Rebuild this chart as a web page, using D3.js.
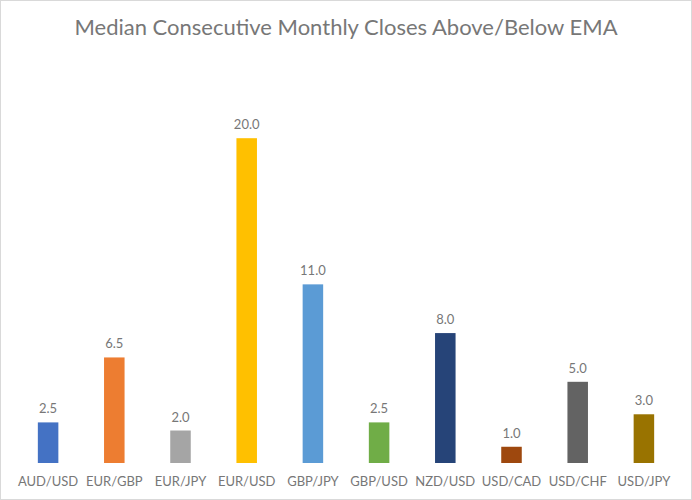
<!DOCTYPE html>
<html><head><meta charset="utf-8">
<script src="https://cdn.jsdelivr.net/npm/d3@7"></script>
<style>html,body{margin:0;padding:0;background:#fff;}</style>
</head><body>
<svg id="c" width="692" height="500"></svg>
<script>
const categories = ["AUD/USD","EUR/GBP","EUR/JPY","EUR/USD","GBP/JPY","GBP/USD","NZD/USD","USD/CAD","USD/CHF","USD/JPY"];
const values = [2.5,6.5,2.0,20.0,11.0,2.5,8.0,1.0,5.0,3.0];
const colors = ["#4472C4","#ED7D31","#A5A5A5","#FFC000","#5B9BD5","#70AD47","#264478","#9E480E","#636363","#997300"];
const title = "Median Consecutive Monthly Closes Above/Below EMA";

const svg = d3.select("#c");
const font = "Lato, 'Open Sans', sans-serif";
svg.append("rect").attr("x",0.5).attr("y",0.5).attr("width",691).attr("height",499)
  .attr("fill","#fff").attr("stroke","#d9d9d9");

svg.append("text").attr("x",346).attr("y",35).attr("text-anchor","middle")
  .attr("font-family",font).attr("font-size",22).attr("fill","#777777").text(title);

const x = d3.scaleBand().domain(categories).range([15,677]).paddingInner(0.69).paddingOuter(0.345);
const y = d3.scaleLinear().domain([0,25]).range([463,57]);

const g = svg.append("g");
g.selectAll("rect.bar").data(values).enter().append("rect").attr("class","bar")
  .attr("x",(d,i)=>x(categories[i])).attr("width",x.bandwidth())
  .attr("y",d=>y(d)).attr("height",d=>y(0)-y(d)).attr("fill",(d,i)=>colors[i]);

g.selectAll("text.lbl").data(values).enter().append("text").attr("class","lbl")
  .attr("x",(d,i)=>x(categories[i])+x.bandwidth()/2).attr("y",d=>y(d)-9)
  .attr("text-anchor","middle").attr("font-family",font).attr("font-size",13)
  .attr("fill","#777777").text(d=>d.toFixed(1));

const ax = d3.axisBottom(x).tickSize(0).tickPadding(14);
const axg = svg.append("g").attr("transform","translate(0,463)").call(ax);
axg.select(".domain").remove();
axg.selectAll("text").attr("font-family",font).attr("font-size",13).attr("fill","#777777");
</script>
</body></html>
